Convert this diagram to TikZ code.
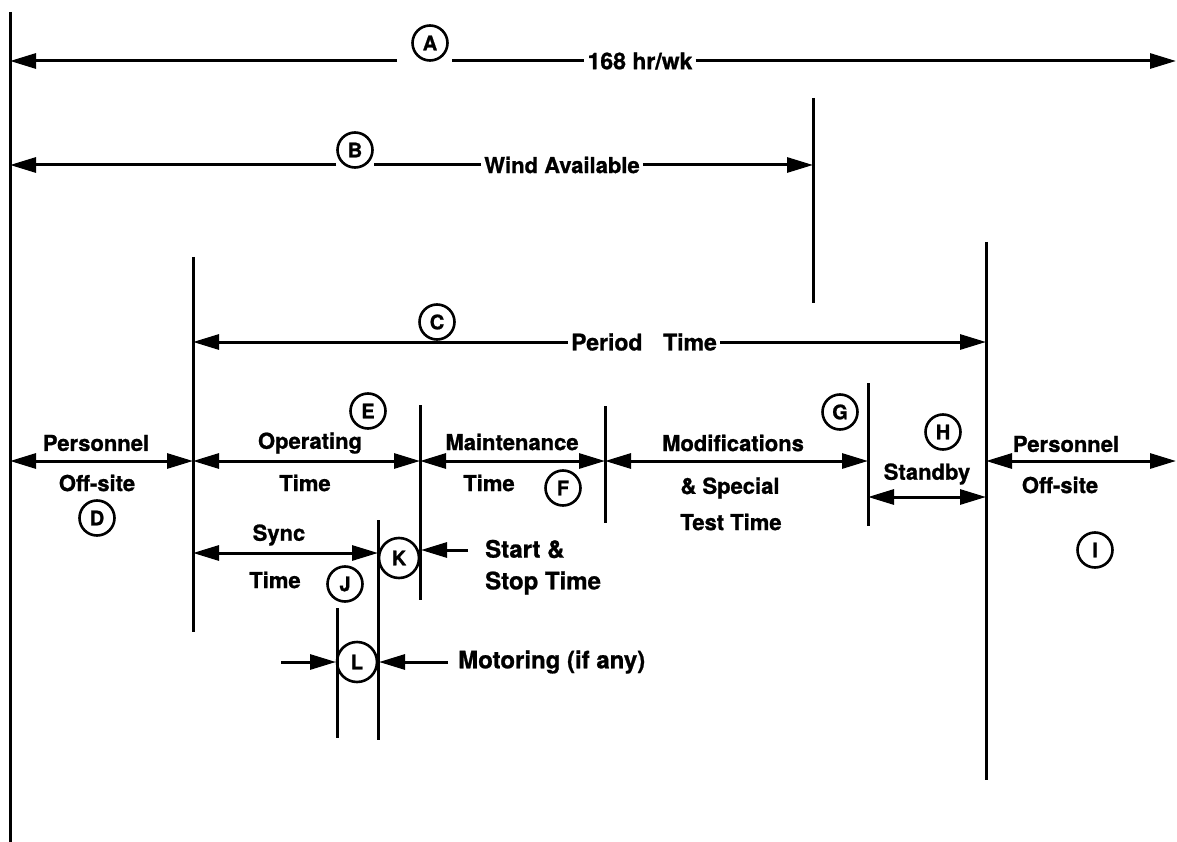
\documentclass[tikz,border=0pt]{standalone}
\usepackage{fontspec}
\setmainfont{TeX Gyre Heros}[BoldFeatures={FakeBold=1}]
\usetikzlibrary{arrows.meta}
\begin{document}
\begin{tikzpicture}[x=1pt,y=-1pt,
  ln/.style={line width=3pt},
  tip/.tip={Triangle[length=26pt,width=15pt]},
  arr/.style={ln,-tip},
  darr/.style={ln,tip-tip},
  lbl/.style={font=\fontsize{22}{24}\selectfont\bfseries, inner ysep=0pt, inner xsep=3pt},
  lblb/.style={lbl, font=\fontsize{24}{26}\selectfont\bfseries},
  circ/.style={circle, draw, line width=2.6pt, minimum size=35pt, inner sep=0pt, font=\fontsize{20}{22}\selectfont\bfseries},
  bigcirc/.style={circ, minimum size=40pt}]
\useasboundingbox (0,0) rectangle (1177,842);
\fill[white] (0,0) rectangle (1177,842);

% vertical boundary lines
\coordinate (v0t) at (10,12);   \coordinate (v0b) at (10,842);
\coordinate (vBt) at (813,98);  \coordinate (vBb) at (813,303);
\coordinate (vCt) at (193,257); \coordinate (vCb) at (193,632);
\coordinate (vDt) at (986,242); \coordinate (vDb) at (986,780);
\coordinate (vEt) at (420,405); \coordinate (vEb) at (420,600);
\coordinate (vFt) at (605,406); \coordinate (vFb) at (605,523);
\coordinate (vGt) at (868,383); \coordinate (vGb) at (868,526);
\coordinate (vKt) at (378,520); \coordinate (vKb) at (378,740);
\coordinate (vLt) at (337,608); \coordinate (vLb) at (337,738);
\foreach \v in {0,B,C,D,E,F,G,K,L} \draw[ln] (v\v t) -- (v\v b);

% A : 168 hr/wk
\node[circ] (cA) at (430,43) {A};
\node[lbl, font=\fontsize{23}{25}\selectfont\bfseries] (tA) at (640,61) {168 hr/wk};
\coordinate (a0) at (10,61);  \coordinate (a1) at (397,61);
\coordinate (a2) at (452,61); \coordinate (a3) at (1176,61);
\draw[arr] (a1) -- (a0);
\draw[ln] (a2) -- (tA.west);
\draw[arr] (tA.east) -- (a3);

% B : Wind Available
\node[circ] (cB) at (355,150) {B};
\node[lbl] (tB) at (562,165) {Wind Available};
\coordinate (b0) at (10,165);  \coordinate (b1) at (336,165);
\coordinate (b2) at (374,165); \coordinate (b3) at (813,165);
\draw[arr] (b1) -- (b0);
\draw[ln] (b2) -- (tB.west);
\draw[arr] (tB.east) -- (b3);

% C : Period Time
\node[circ] (cC) at (437,322) {C};
\node[lbl, font=\fontsize{23}{25}\selectfont\bfseries] (tC) at (644,342) {Period\hspace{0.9em}Time};
\coordinate (c0) at (193,342); \coordinate (c1) at (986,342);
\draw[arr] (tC.west) -- (c0);
\draw[arr] (tC.east) -- (c1);

% main row
\coordinate (r0) at (10,461);  \coordinate (r1) at (193,461);
\coordinate (r2) at (420,461); \coordinate (r3) at (605,461);
\coordinate (r4) at (868,461); \coordinate (r5) at (986,461);
\coordinate (r6) at (1176,461);
\coordinate (s0) at (868,497); \coordinate (s1) at (986,497);
\draw[darr] (r0) -- (r1);
\draw[darr] (r1) -- (r2);
\draw[darr] (r2) -- (r3);
\draw[darr] (r3) -- (r4);
\draw[darr] (s0) -- (s1);
\draw[darr] (r5) -- (r6);

\node[lbl] (tD1) at (96,443) {Personnel};
\node[lbl] (tD2) at (97,483) {Off-site};
\node[circ] (cD) at (97,518) {D};

\node[lbl] (tE1) at (310,443) {Operating};
\node[lbl] (tE2) at (305,483) {Time};
\node[circ] (cE) at (368,411) {E};

\node[lbl] (tF1) at (512,442) {Maintenance};
\node[lbl] (tF2) at (489,483) {Time};
\node[circ] (cF) at (563,488) {F};

\node[lbl] (tG1) at (733,443) {Modifications};
\node[lbl] (tG2) at (730,488) {\& Special};
\node[lbl] (tG3) at (731,522) {Test Time};
\node[circ] (cG) at (840,412) {G};

\node[lbl] (tH) at (927,474) {Standby};
\node[circ] (cH) at (943,432) {H};

\node[lbl] (tI1) at (1066,444) {Personnel};
\node[lbl] (tI2) at (1060,485) {Off-site};
\node[circ] (cI) at (1095,550) {I};

% Sync / Start & Stop
\coordinate (j0) at (193,553); \coordinate (j1) at (378,553);
\draw[darr] (j0) -- (j1);
\node[lbl] (tJ1) at (279,535) {Sync};
\node[lbl] (tJ2) at (275,580) {Time};
\node[circ] (cJ) at (345,584) {J};
\node[bigcirc] (cK) at (399,558) {K};
\coordinate (k0) at (468,550); \coordinate (k1) at (421,550);
\draw[arr] (k0) -- (k1);
\node[lblb, anchor=west] (tK1) at (482,549) {Start \&};
\node[lblb, anchor=west] (tK2) at (482,583) {Stop Time};

% Motoring
\node[bigcirc] (cL) at (357,662) {L};
\coordinate (l0) at (281,662); \coordinate (l1) at (336,662);
\coordinate (l2) at (448,662); \coordinate (l3) at (379,662);
\draw[arr] (l0) -- (l1);
\draw[arr] (l2) -- (l3);
\node[lblb, anchor=west] (tL) at (455,662) {Motoring (if any)};
\end{tikzpicture}
\end{document}
